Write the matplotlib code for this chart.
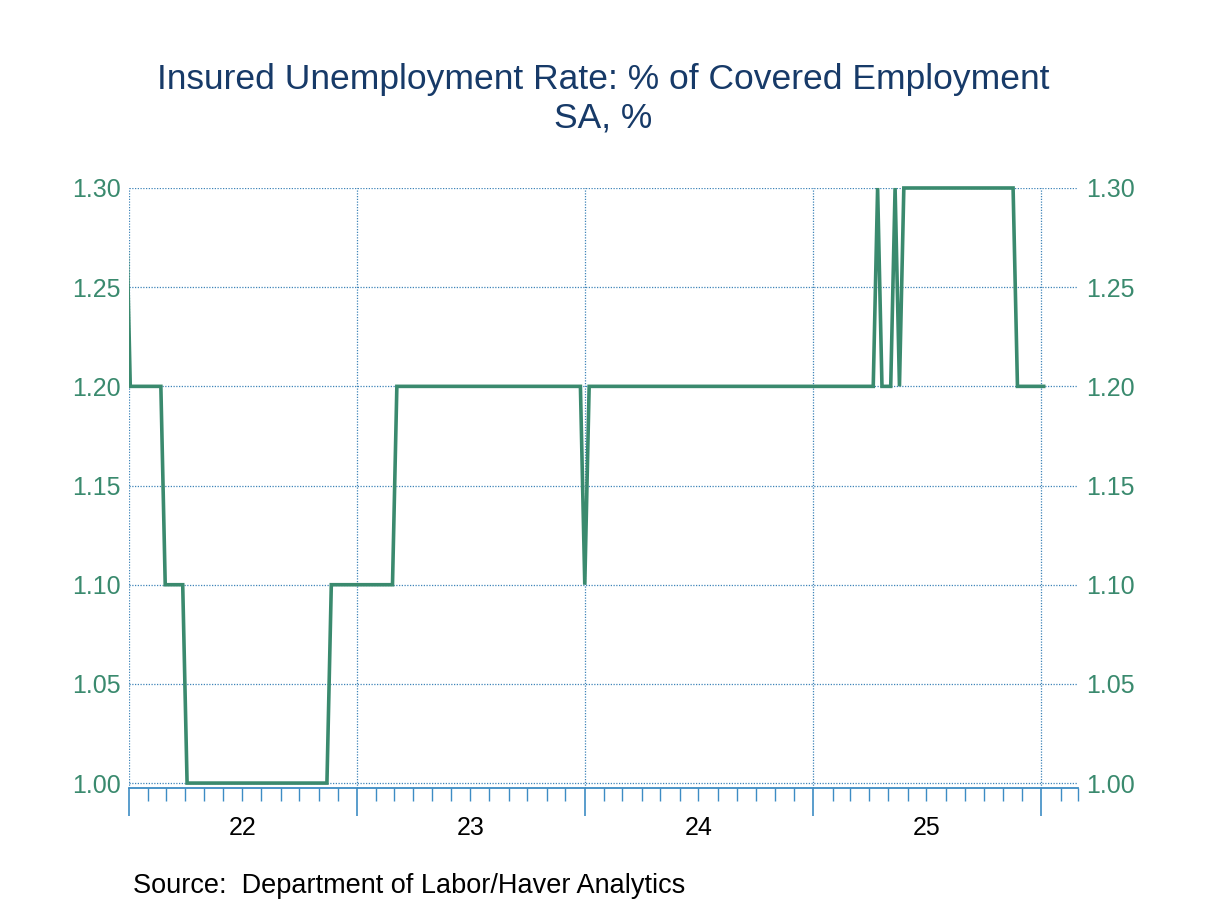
import numpy as np
import pandas as pd
import matplotlib
matplotlib.use('Agg')
import matplotlib.pyplot as plt
import matplotlib.dates as mdates
import matplotlib.transforms as mtransforms
from matplotlib.patches import Rectangle

plt.rcParams['font.family'] = ['Liberation Sans', 'DejaVu Sans']

# weekly insured unemployment rate, stored as runs of (level, number of weeks)
run_levels = [1.3, 1.2, 1.1, 1.0, 1.1, 1.2, 1.1, 1.2, 1.3, 1.2, 1.3, 1.2, 1.3, 1.2]
run_weeks = [1, 8, 5, 33, 15, 43, 1, 66, 1, 3, 1, 1, 26, 7]
first_week = '2021-12-27'

year_labels = ['22', '23', '24', '25']
y_ticks = [1.00, 1.05, 1.10, 1.15, 1.20, 1.25, 1.30]

title = 'Insured Unemployment Rate: % of Covered Employment\nSA, %'
source = 'Source:  Department of Labor/Haver Analytics'

values = np.repeat(run_levels, run_weeks)
dates = pd.date_range(first_week, periods=len(values), freq='7D')

green = '#3a8a6e'
blue = '#3d8cc4'
grid_c = '#3f84b8'

fig = plt.figure(figsize=(12.08, 9.06), dpi=100)
ax = fig.add_axes([0.1068, 0.1302, 0.7856, 0.6623])

line, = ax.plot(dates, values, color=green, lw=2.6, zorder=3,
                solid_joinstyle='miter')
# clip only left/right so the 1.30 level isn't cut in half
clip = Rectangle((0, -0.05), 1, 1.1, transform=ax.transAxes,
                 facecolor='none', edgecolor='none')
line.set_clip_path(clip)

ax.set_xlim(pd.Timestamp('2022-01-01'), pd.Timestamp('2026-03-01'))
ax.set_ylim(0.9975, 1.30)

ax.xaxis.set_major_locator(mdates.YearLocator())
ax.xaxis.set_minor_locator(mdates.MonthLocator())
ax.xaxis.set_major_formatter(plt.NullFormatter())
ax.tick_params(axis='x', which='major', length=20, width=1.2, color=blue, direction='out')
ax.tick_params(axis='x', which='minor', length=9, width=1.0, color=blue, direction='out')

ax.set_yticks(y_ticks)
ax.set_yticklabels(['%.2f' % v for v in y_ticks])
ax.tick_params(axis='y', length=0, pad=6, labelsize=18, labelcolor=green,
               labelright=True, right=False)

for s in ['top', 'left', 'right']:
    ax.spines[s].set_visible(False)
ax.spines['bottom'].set_color(blue)
ax.spines['bottom'].set_linewidth(1.3)

ax.grid(True, which='major', axis='both', color=grid_c, lw=0.9,
        linestyle=(0, (1, 1.2)))
ax.set_axisbelow(True)

trans = mtransforms.blended_transform_factory(ax.transData, ax.transAxes)
for k, lab in enumerate(year_labels):
    mid = pd.Timestamp('%d-07-02' % (2022 + k))
    ax.text(mdates.date2num(mid), -0.067, lab, transform=trans, ha='center',
            va='center', fontsize=18, color='black')

fig.text(0.4995, 0.891, title, ha='center', va='center', fontsize=25.5,
         color='#173a68', linespacing=1.22)
fig.text(0.110, 1 - 886 / 906, source, ha='left', va='center', fontsize=19.5,
         color='black')

fig.savefig('out.png', dpi=100)
